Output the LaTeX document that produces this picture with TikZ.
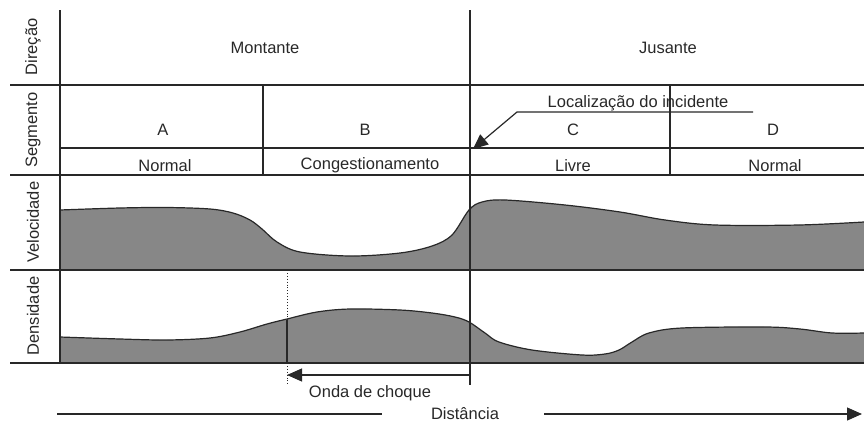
\documentclass[tikz,border=0pt]{standalone}
\usepackage{fontspec}
\setmainfont{Liberation Sans}
\usetikzlibrary{arrows.meta}
\definecolor{areagray}{RGB}{135,135,135}
\definecolor{ink}{RGB}{40,40,40}
\tikzset{
  gridline/.style={draw=ink, line width=1.3pt},
  curveline/.style={draw=ink, line width=1.2pt},
  lbl/.style={font=\fontsize{16.5}{19}\selectfont, text=ink, inner sep=0pt},
  sidelbl/.style={lbl, rotate=90},
  bigarrow/.style={draw=ink, line width=1.2pt, -{Triangle[length=15pt,width=13pt]}},
  dotline/.style={draw=ink, line width=0.9pt, dotted}
}
\begin{document}
\begin{tikzpicture}[x=1pt,y=-1pt]
\useasboundingbox (0,0) rectangle (864,423);

% ---- filled profiles ----
\fill[areagray] plot[smooth, tension=0.55] coordinates {(60,210) (120,208) (167,207.5) (210,209) (233,213) (250,220) (262,229) (277,242) (300,252) (350,256) (400,253) (432,246) (452,235) (469,210) (482,202) (505,200) (565,205) (620,212) (665,220) (715,225) (799,225) (864,222)} -- (864,270) -- (60,270) -- cycle;
\draw[curveline] plot[smooth, tension=0.55] coordinates {(60,210) (120,208) (167,207.5) (210,209) (233,213) (250,220) (262,229) (277,242) (300,252) (350,256) (400,253) (432,246) (452,235) (469,210) (482,202) (505,200) (565,205) (620,212) (665,220) (715,225) (799,225) (864,222)};

\fill[areagray] plot[smooth, tension=0.55] coordinates {(60,337) (120,339) (167,340) (210,338) (240,332) (267,324) (287,319) (317,312) (350,309) (400,310) (432,313) (455,317) (469,322) (485,333) (499,342) (532,350) (582,355) (605,354) (619,350) (632,342) (649,333) (682,328) (765,327) (800,329) (832,333) (864,333)} -- (864,363) -- (60,363) -- cycle;
\draw[curveline] plot[smooth, tension=0.55] coordinates {(60,337) (120,339) (167,340) (210,338) (240,332) (267,324) (287,319) (317,312) (350,309) (400,310) (432,313) (455,317) (469,322) (485,333) (499,342) (532,350) (582,355) (605,354) (619,350) (632,342) (649,333) (682,328) (765,327) (800,329) (832,333) (864,333)};

% ---- grid coordinates ----
\coordinate (axT) at (60,10);
\coordinate (axB) at (60,363);
\coordinate (incT) at (470,10);
\coordinate (incB) at (470,385);
\coordinate (h1L) at (10,85);   \coordinate (h1R) at (864,85);
\coordinate (h2L) at (60,148);  \coordinate (h2R) at (864,148);
\coordinate (h3L) at (10,175);  \coordinate (h3R) at (864,175);
\coordinate (h4L) at (10,270);  \coordinate (h4R) at (864,270);
\coordinate (h5L) at (10,363);  \coordinate (h5R) at (864,363);
\coordinate (vabT) at (263,85); \coordinate (vabB) at (263,175);
\coordinate (vcdT) at (670,85); \coordinate (vcdB) at (670,175);

\draw[gridline] (h1L) -- (h1R);
\draw[gridline] (h2L) -- (h2R);
\draw[gridline] (h3L) -- (h3R);
\draw[gridline] (h4L) -- (h4R);
\draw[gridline] (h5L) -- (h5R);
\draw[gridline] (axT) -- (axB);
\draw[gridline] (incT) -- (incB);
\draw[gridline] (vabT) -- (vabB);
\draw[gridline] (vcdT) -- (vcdB);

% ---- side labels ----
\node[sidelbl] (ldir) at (33,47) {Direção};
\node[sidelbl] (lseg) at (33,130) {Segmento};
\node[sidelbl] (lvel) at (33,222) {Velocidade};
\node[sidelbl] (lden) at (33,316) {Densidade};

% ---- texts ----
\node[lbl] (mont) at (265,48) {Montante};
\node[lbl] (jus) at (668,48) {Jusante};
\node[lbl] (segA) at (163,130) {A};
\node[lbl] (segB) at (365,130) {B};
\node[lbl] (segC) at (573,130) {C};
\node[lbl] (segD) at (773,130) {D};
\node[lbl] (stA) at (165,166) {Normal};
\node[lbl] (stB) at (370,165) {Congestionamento};
\node[lbl] (stC) at (573,166) {Livre};
\node[lbl] (stD) at (775,166) {Normal};
\node[lbl] (loc) at (638,103) {Localização do incidente};

% ---- incident arrow ----
\coordinate (locR) at (753,112);
\coordinate (locK) at (517,112);
\coordinate (locTip) at (473,149);
\draw[bigarrow] (locR) -- (locK) -- (locTip);

% ---- shock wave ----
\coordinate (shT) at (287,270);
\coordinate (shC) at (287,319.5);
\coordinate (shB) at (287,363);
\coordinate (shE) at (287,386);
\draw[dotline] (shT) -- (shC);
\draw[gridline] (shC) -- (shB);
\draw[dotline] (shB) -- (shE);
\coordinate (waveS) at (470,375);
\coordinate (waveE) at (287,375);
\draw[bigarrow] (waveS) -- (waveE);
\node[lbl] (onda) at (370,393) {Onda de choque};

% ---- distance axis ----
\node[lbl] (dist) at (465,414) {Distância};
\coordinate (dL) at (57,414);
\coordinate (dLe) at (382,414);
\coordinate (dRs) at (544,414);
\coordinate (dR) at (862,414);
\draw[gridline] (dL) -- (dLe);
\draw[bigarrow] (dRs) -- (dR);
\end{tikzpicture}
\end{document}
